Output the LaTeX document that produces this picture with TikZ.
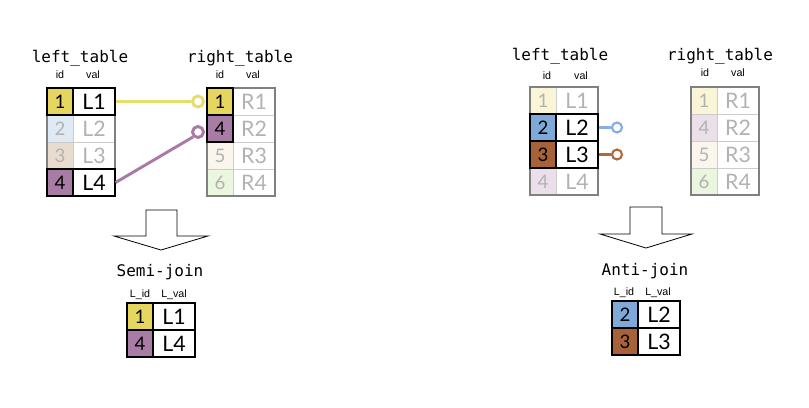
\documentclass[tikz,border=0pt]{standalone}
\usepackage{fontspec}
\setmainfont{Liberation Sans}
\newfontfamily\monof{DejaVu Sans Mono}
\newfontfamily\cellf{Lato}
\definecolor{cyel}{HTML}{E6D660}
\definecolor{cpur}{HTML}{A97CA6}
\definecolor{cblu}{HTML}{7EA9D8}
\definecolor{cbro}{HTML}{A8623A}
\definecolor{fblu}{HTML}{DFEAF4}
\definecolor{fbro}{HTML}{EADBCF}
\definecolor{fcre}{HTML}{FAF6EE}
\definecolor{fgre}{HTML}{EBF6DF}
\definecolor{fyel}{HTML}{FAF5D6}
\definecolor{fpur}{HTML}{EBE0EA}
\definecolor{lyel}{HTML}{E8DC6E}
\definecolor{lpur}{HTML}{A87AA4}
\definecolor{lblu}{HTML}{83B0DF}
\definecolor{lbro}{HTML}{B06A3E}
\tikzset{
  idcell/.style={rectangle,minimum width=19.5pt,minimum height=20.25pt,inner sep=0pt,font=\cellf\fontsize{14}{14}\selectfont},
  valcell/.style={rectangle,minimum width=31.5pt,minimum height=20.25pt,inner sep=0pt,font=\cellf\fontsize{16}{16}\selectfont},
  on/.style={draw=black,line width=0.9pt,text=black},
  off/.style={draw=black!20,line width=0.6pt,text=black!30},
  title/.style={font=\monof\fontsize{12}{12}\selectfont},
  colh/.style={font=\fontsize{8}{8}\selectfont},
  outer/.style={draw=black!50,line width=0.9pt},
  ring/.style={circle,draw,fill=white,inner sep=0pt},
  bigarrow/.style={draw=black,line width=0.6pt,line join=miter}
}
\begin{document}
\begin{tikzpicture}[x=0.75pt,y=-0.75pt]
\useasboundingbox (0,0) rectangle (809,407);
% ===== LEFT: semi-join =====
\node[title] (lt1) at (80,58) {left\_table};
\node[colh] (lt1id) at (60,75) {id};
\node[colh] (lt1val) at (93,75) {val};
\node[idcell,off,fill=fblu] (a2i) at (60,128.5) {2};
\node[valcell,off] (a2v) at (94,128.5) {L2};
\node[idcell,off,fill=fbro] (a3i) at (60,155.5) {3};
\node[valcell,off] (a3v) at (94,155.5) {L3};
\draw[outer] (47,88) rectangle (115,196);
\node[idcell,on,fill=cyel] (a1i) at (60,101.5) {1};
\node[valcell,on] (a1v) at (94,101.5) {L1};
\node[idcell,on,fill=cpur] (a4i) at (60,182.5) {4};
\node[valcell,on] (a4v) at (94,182.5) {L4};
\node[title] (rt1) at (240,58) {right\_table};
\node[colh] (rt1id) at (220,75) {id};
\node[colh] (rt1val) at (253,75) {val};
\node[valcell,off] (b1v) at (254,101.5) {R1};
\node[valcell,off] (b2v) at (254,128.5) {R2};
\node[idcell,off,fill=fcre] (b3i) at (220,155.5) {5};
\node[valcell,off] (b3v) at (254,155.5) {R3};
\node[idcell,off,fill=fgre] (b4i) at (220,182.5) {6};
\node[valcell,off] (b4v) at (254,182.5) {R4};
\draw[outer] (207,88) rectangle (275,196);
\node[idcell,on,fill=cyel] (b1i) at (220,101.5) {1};
\node[idcell,on,fill=cpur] (b2i) at (220,128.5) {4};
\node[ring,draw=lyel,line width=2.2pt,minimum size=8.25pt] (c1) at (198,101.5) {};
\node[ring,draw=lpur,line width=2.2pt,minimum size=8.25pt] (c2) at (198,132) {};
\draw[lyel,line width=2.2pt] (a1v.east) -- (c1.west);
\draw[lpur,line width=2.2pt] (a4v.east) -- (c2.south west);
\draw[bigarrow] (146,210) -- (177,210) -- (177,236) -- (208,236) -- (161,250) -- (114,236) -- (146,236) -- cycle;
\node[title] (sj) at (160,272) {Semi-join};
\node[colh] (sjid) at (140,295) {L\_id};
\node[colh] (sjval) at (174,295) {L\_val};
\node[idcell,on,fill=cyel] (s1i) at (140,316.5) {1};
\node[valcell,on] (s1v) at (174,316.5) {L1};
\node[idcell,on,fill=cpur] (s2i) at (140,343.5) {4};
\node[valcell,on] (s2v) at (174,343.5) {L4};
% ===== RIGHT: anti-join =====
\node[title] (lt2) at (560,56) {left\_table};
\node[colh] (lt2id) at (547,76) {id};
\node[colh] (lt2val) at (581,76) {val};
\node[idcell,off,fill=fyel] (d1i) at (543,100.5) {1};
\node[valcell,off] (d1v) at (577,100.5) {L1};
\node[idcell,off,fill=fpur] (d4i) at (543,181.5) {4};
\node[valcell,off] (d4v) at (577,181.5) {L4};
\draw[outer] (530,87) rectangle (598,195);
\node[idcell,on,fill=cblu] (d2i) at (543,127.5) {2};
\node[valcell,on] (d2v) at (577,127.5) {L2};
\node[idcell,on,fill=cbro] (d3i) at (543,154.5) {3};
\node[valcell,on] (d3v) at (577,154.5) {L3};
\node[title] (rt2) at (720,56) {right\_table};
\node[colh] (rt2id) at (705,73) {id};
\node[colh] (rt2val) at (738,73) {val};
\node[idcell,off,fill=fyel] (e1i) at (704,100.5) {1};
\node[valcell,off] (e1v) at (738,100.5) {R1};
\node[idcell,off,fill=fpur] (e2i) at (704,127.5) {4};
\node[valcell,off] (e2v) at (738,127.5) {R2};
\node[idcell,off,fill=fcre] (e3i) at (704,154.5) {5};
\node[valcell,off] (e3v) at (738,154.5) {R3};
\node[idcell,off,fill=fgre] (e4i) at (704,181.5) {6};
\node[valcell,off] (e4v) at (738,181.5) {R4};
\draw[outer] (691,87) rectangle (759,195);
\node[ring,draw=lblu,line width=1.6pt,minimum size=7.5pt] (c3) at (617,127.5) {};
\node[ring,draw=lbro,line width=1.6pt,minimum size=7.5pt] (c4) at (617,154.5) {};
\draw[lblu,line width=1.6pt] (d2v.east) -- (c3.west);
\draw[lbro,line width=1.6pt] (d3v.east) -- (c4.west);
\draw[bigarrow] (630,207) -- (662,207) -- (662,234) -- (692,234) -- (646,248) -- (600,234) -- (630,234) -- cycle;
\node[title] (aj) at (645,271) {Anti-join};
\node[colh] (ajid) at (624,293) {L\_id};
\node[colh] (ajval) at (658,293) {L\_val};
\node[idcell,on,fill=cblu] (t1i) at (625,314.5) {2};
\node[valcell,on] (t1v) at (659,314.5) {L2};
\node[idcell,on,fill=cbro] (t2i) at (625,341.5) {3};
\node[valcell,on] (t2v) at (659,341.5) {L3};
\end{tikzpicture}
\end{document}
